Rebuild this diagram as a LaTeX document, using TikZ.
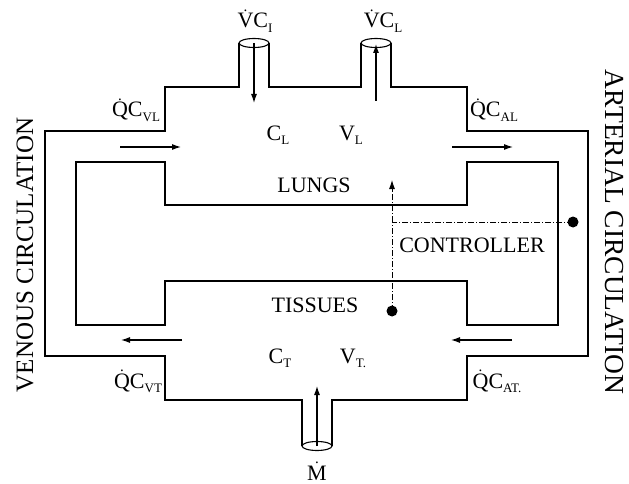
\documentclass[tikz,border=0pt]{standalone}
\usepackage{fontspec}
\setmainfont{Liberation Serif}
\usetikzlibrary{arrows.meta}
\newcommand{\dotacc}[1]{\leavevmode\ooalign{#1\cr\hidewidth\raisebox{0.74em}{\fontsize{15}{15}\selectfont .}\hidewidth\cr}}
\newcommand{\lowsub}[1]{\raisebox{-0.22em}{\fontsize{13}{13}\selectfont #1}}
\begin{document}
\begin{tikzpicture}[x=1pt,y=-1pt,
  wall/.style={line width=1.1pt,line join=miter},
  flow/.style={line width=1.1pt,-{Latex[length=9pt,width=6pt]}},
  ctrl/.style={line width=0.9pt,dash pattern=on 6pt off 2pt on 1pt off 2pt},
  lbl/.style={anchor=base,inner sep=0pt,font=\fontsize{22}{26}\selectfont},
  side/.style={anchor=center,inner sep=0pt},
  pipeend/.style={line width=1.1pt}]
\useasboundingbox (0,0) rectangle (629,484);
% outer contour
\draw[wall] (239,43)--(239,87)--(165,87)--(165,131)--(45,131)--(45,356)--(165,356)--(165,400)--(302,400)--(302,446);
\draw[wall] (332,446)--(332,400)--(467,400)--(467,356)--(588,356)--(588,131)--(467,131)--(467,87)--(391,87)--(391,43);
\draw[wall] (361,43)--(361,87)--(269,87)--(269,43);
% inner contour
\draw[wall] (165,162)--(165,205)--(467,205)--(467,162)--(558,162)--(558,325)--(467,325)--(467,281)--(165,281)--(165,325)--(76,325)--(76,162)--cycle;
% pipe ends
\draw[pipeend] (254,43) ellipse [x radius=15,y radius=4.5];
\draw[pipeend] (376,43) ellipse [x radius=15,y radius=4.5];
\draw[pipeend] (317,446) ellipse [x radius=15,y radius=4.5];
% coordinates for connectors
\coordinate (viIn) at (254,43);
\coordinate (viOut) at (254,103);
\coordinate (vlIn) at (376,101);
\coordinate (vlOut) at (376,44);
\coordinate (mIn) at (317,446);
\coordinate (mOut) at (317,386);
\coordinate (vlA) at (120,147);
\coordinate (vlB) at (181,147);
\coordinate (alA) at (452,147);
\coordinate (alB) at (513,147);
\coordinate (vtA) at (182,340);
\coordinate (vtB) at (121,340);
\coordinate (atA) at (512,340);
\coordinate (atB) at (451,340);
\draw[flow] (viIn)--(viOut);
\draw[flow] (vlIn)--(vlOut);
\draw[flow] (mIn)--(mOut);
\draw[flow] (vlA)--(vlB);
\draw[flow] (alA)--(alB);
\draw[flow] (vtA)--(vtB);
\draw[flow] (atA)--(atB);
% controller
\node[circle,fill=black,inner sep=0pt,minimum size=11pt] (sens) at (392,311) {};
\node[circle,fill=black,inner sep=0pt,minimum size=11pt] (art) at (573,222) {};
\coordinate (junc) at (392,222);
\coordinate (ctip) at (392,180);
\draw[ctrl] (art.center)--(junc);
\draw[ctrl] (sens.center)--(junc);
\draw[ctrl] (junc)--(392,190);
\draw[line width=0.9pt,-{Latex[length=9pt,width=6pt]}] (392,191)--(ctip);
% labels
\node[lbl] (tVCI) at (255,28) {\dotacc{V}C\lowsub{I}};
\node[lbl] (tVCL) at (383,28) {\dotacc{V}C\lowsub{L}};
\node[lbl] (tQVL) at (136,117) {\dotacc{Q}C\lowsub{VL}};
\node[lbl] (tQAL) at (494,117) {\dotacc{Q}C\lowsub{AL}};
\node[lbl] (tCL) at (278,140) {C\lowsub{L}};
\node[lbl] (tVL) at (351,140) {V\lowsub{L}};
\node[lbl] (tLungs) at (314,192) {LUNGS};
\node[lbl] (tCtrl) at (472,252) {CONTROLLER};
\node[lbl] (tTis) at (315,312) {TISSUES};
\node[lbl] (tCT) at (280,363) {C\lowsub{T}};
\node[lbl] (tVT) at (353,363) {V\lowsub{T.}};
\node[lbl] (tQVT) at (138,388) {\dotacc{Q}C\lowsub{VT}};
\node[lbl] (tQAT) at (497,388) {\dotacc{Q}C\lowsub{AT.}};
\node[lbl] (tM) at (317,480) {\dotacc{M}};
\node[side,rotate=90,font=\fontsize{25}{28}\selectfont] (tVen) at (25,255) {VENOUS CIRCULATION};
\node[side,rotate=-90,font=\fontsize{27.5}{30}\selectfont] (tArt) at (614,232) {ARTERIAL CIRCULATION};
\end{tikzpicture}
\end{document}
